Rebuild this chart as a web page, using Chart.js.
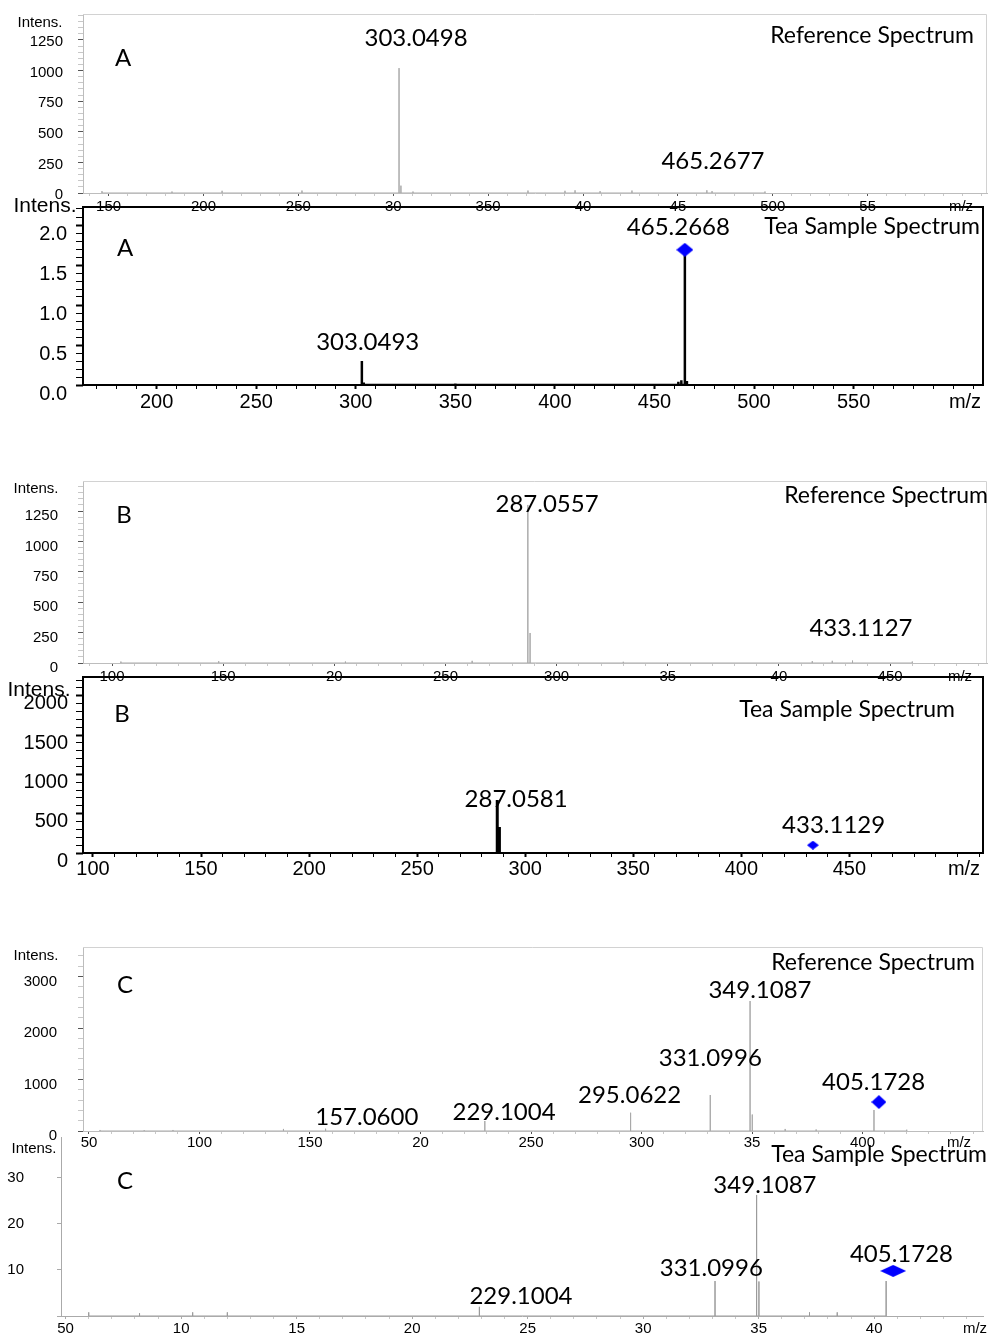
<!DOCTYPE html>
<html>
<head>
<meta charset="utf-8">
<script src="https://cdn.jsdelivr.net/npm/chart.js@4.4.0/dist/chart.umd.min.js"></script>
<style>
  body { margin: 0; background: #fff; }
  #wrap { position: relative; width: 989px; height: 1336px; overflow: hidden; background: #fff; }
  #wrap canvas { position: absolute; left: 0; }
</style>
</head>
<body>
<div id="wrap"></div>
<script>
// ---------- A : reference spectrum ----------
const refAMz  = [146.5, 183.4, 209.8, 251.9, 303.05, 304.05, 310.4, 371.0, 390.5, 395.8, 409.0, 425.8, 465.27, 468.0, 495.9];
const refAInt = [15, 12, 18, 20, 1020, 60, 12, 20, 18, 22, 15, 20, 22, 15, 12];
const refALabelText = ['303.0498', '465.2677'];
const refALabelMz   = [312.0, 468.5];
const refALabelInt  = [1266, 261];
const refAXTicks  = [150, 200, 250, 300, 350, 400, 450, 500, 550];
const refAXLabels = ['150', '200', '250', '30', '350', '40', '45', '500', '55'];
const refAYTicks  = [0, 250, 500, 750, 1000, 1250];
const refAYLabels = ['0', '250', '500', '750', '1000', '1250'];

// ---------- A : tea sample ----------
const sampAMz  = [303.05, 304.0, 350.0, 462.0, 463.5, 465.27, 466.3];
const sampAInt = [0.30, 0.03, 0.02, 0.04, 0.06, 1.69, 0.05];
const sampADiamond = [465.27, 1.69];
const sampALabelText = ['465.2668', '303.0493'];
const sampALabelMz   = [462.0, 306.0];
const sampALabelInt  = [1.975, 0.5375];
const sampAXTicks  = [200, 250, 300, 350, 400, 450, 500, 550];
const sampAXLabels = ['200', '250', '300', '350', '400', '450', '500', '550'];
const sampAYTicks  = [0, 0.5, 1, 1.5, 2];
const sampAYLabels = ['0.0', '0.5', '1.0', '1.5', '2.0'];

// ---------- B : reference spectrum ----------
const refBMz  = [104, 148, 205, 262, 287.06, 288.06, 330, 415, 424, 433.11, 460];
const refBInt = [12, 15, 12, 18, 1300, 247, 10, 15, 18, 20, 12];
const refBLabelText = ['287.0557', '433.1127'];
const refBLabelMz   = [295.7, 436.9];
const refBLabelInt  = [1308, 288];
const refBXTicks  = [100, 150, 200, 250, 300, 350, 400, 450];
const refBXLabels = ['100', '150', '20', '250', '300', '35', '40', '450'];
const refBYTicks  = [0, 250, 500, 750, 1000, 1250];
const refBYLabels = ['0', '250', '500', '750', '1000', '1250'];

// ---------- B : tea sample ----------
const sampBMz  = [287.06, 288.06];
const sampBInt = [674, 330];
const sampBDiamond = [433.11, 100];
const sampBLabelText = ['287.0581', '433.1129'];
const sampBLabelMz   = [295.8, 442.7];
const sampBLabelInt  = [687, 356];
const sampBXTicks  = [100, 150, 200, 250, 300, 350, 400, 450];
const sampBXLabels = ['100', '150', '200', '250', '300', '350', '400', '450'];
const sampBYTicks  = [0, 500, 1000, 1500, 2000];
const sampBYLabels = ['0', '500', '1000', '1500', '2000'];

// ---------- C : reference spectrum ----------
const refCMz  = [55, 75, 88, 138, 157.06, 229.10, 295.06, 331.10, 349.11, 350.11, 365, 379, 405.17, 420];
const refCInt = [20, 15, 20, 40, 45, 194, 355, 699, 2524, 320, 40, 30, 408, 25];
const refCDiamond = [407.4, 563];
const refCLabelText = ['349.1087', '331.0996', '295.0622', '405.1728', '229.1004', '157.0600'];
const refCLabelMz   = [353.6, 331.1, 294.6, 405.0, 237.8, 175.7];
const refCLabelInt  = [2738, 1417, 699, 951, 369, 272];
const refCXTicks  = [50, 100, 150, 200, 250, 300, 350, 400];
const refCXLabels = ['50', '100', '150', '20', '250', '300', '35', '400'];
const refCYTicks  = [0, 1000, 2000, 3000];
const refCYLabels = ['0', '1000', '2000', '3000'];

// ---------- C : tea sample ----------
const sampCMz  = [60, 82, 105, 120, 229.10, 331.10, 349.11, 350.11, 372, 384, 405.17];
const sampCInt = [0.8, 0.6, 0.8, 0.8, 2.0, 7.6, 26.3, 7.5, 0.8, 0.8, 7.6];
const sampCDiamond = [408.2, 9.8];
const sampCLabelText = ['349.1087', '331.0996', '405.1728', '229.1004'];
const sampCLabelMz   = [352.7, 329.5, 411.8, 247.1];
const sampCLabelInt  = [28.5, 10.4, 13.5, 4.35];
const sampCXTicks  = [50, 100, 150, 200, 250, 300, 350, 400];
const sampCXLabels = ['50', '10', '15', '20', '25', '30', '35', '40'];
const sampCYTicks  = [0, 10, 20, 30];
const sampCYLabels = ['', '10', '20', '30'];

const TICK_FONT = "'Liberation Sans', Arial, sans-serif";
const NOTE_FONT = "24px Lato, 'Open Sans', sans-serif";
const TITLE_FONT = "23px Lato, 'Open Sans', sans-serif";

function range(a, b, step) {
  const out = [];
  for (let i = 0; a + i * step <= b + 1e-9; i++) out.push(Math.round((a + i * step) * 1000) / 1000);
  return out;
}

function findIdx(v, vals) {
  for (let i = 0; i < vals.length; i++) {
    if (Math.abs(vals[i] - v) < 1e-6) return i;
  }
  return -1;
}

function allTicks(major, minor) {
  const out = major.slice();
  minor.forEach(v => { if (findIdx(v, out) < 0) out.push(v); });
  return out.sort((a, b) => a - b);
}

// each peak is drawn as baseline -> top -> baseline
function spikes(mz, inten) {
  const idx = mz.map((m, i) => i).sort((a, b) => mz[a] - mz[b]);
  const pts = [];
  idx.forEach(i => {
    pts.push({ x: mz[i], y: 0 }, { x: mz[i], y: inten[i] }, { x: mz[i], y: 0 });
  });
  return pts;
}

function makeDiamond(w, h) {
  const c = document.createElement('canvas');
  c.width = w; c.height = h;
  const g = c.getContext('2d');
  g.fillStyle = '#0000ff';
  g.beginPath();
  g.moveTo(w / 2, 0); g.lineTo(w, h / 2); g.lineTo(w / 2, h); g.lineTo(0, h / 2);
  g.closePath(); g.fill();
  return c;
}

function drawPanel(p) {
  const canvas = document.createElement('canvas');
  canvas.width = 989;
  canvas.height = p.height;
  canvas.style.top = p.top + 'px';
  document.getElementById('wrap').appendChild(canvas);

  const xAll = allTicks(p.xTicks, p.xMinor);
  const yAll = allTicks(p.yTicks, p.yMinor);

  const textPlugin = {
    id: 'panelText',
    afterDraw(chart) {
      const ctx = chart.ctx, a = chart.chartArea;
      const xs = chart.scales.x, ys = chart.scales.y;
      const dy = -p.top;
      ctx.save();
      if (p.frame) {
        ctx.strokeStyle = p.frame; ctx.lineWidth = 1;
        ctx.beginPath();
        ctx.moveTo(a.left, a.top + 0.5);
        ctx.lineTo(a.right - 0.5, a.top + 0.5);
        ctx.lineTo(a.right - 0.5, a.bottom);
        ctx.stroke();
      }
      if (p.box) {
        ctx.strokeStyle = '#000'; ctx.lineWidth = 2;
        ctx.strokeRect(a.left, a.top, a.right - a.left, a.bottom - a.top);
      }
      ctx.fillStyle = '#000';
      ctx.textBaseline = 'middle';
      ctx.font = NOTE_FONT;
      ctx.textAlign = 'center';
      p.labelText.forEach((t, i) => {
        ctx.fillText(t, xs.getPixelForValue(p.labelMz[i]), ys.getPixelForValue(p.labelInt[i]));
      });
      ctx.fillText(p.letter, p.letterPos[0], p.letterPos[1] + dy);
      ctx.font = TITLE_FONT;
      ctx.textAlign = 'right';
      ctx.fillText(p.title, p.titlePos[0], p.titlePos[1] + dy);
      ctx.textAlign = 'center';
      ctx.font = p.intensSize + 'px ' + TICK_FONT;
      ctx.fillText('Intens.', p.intensPos[0], p.intensPos[1] + dy);
      ctx.font = p.xFont + 'px ' + TICK_FONT;
      ctx.fillText('m/z', p.mzPos[0], p.mzPos[1] + dy);
      ctx.restore();
    }
  };

  const datasets = [{
    type: 'scatter',
    data: spikes(p.mz, p.int),
    showLine: true,
    pointRadius: 0,
    borderColor: p.lineColor,
    borderWidth: p.lineWidth,
    order: 2
  }];
  if (p.diamond) {
    datasets.push({
      type: 'scatter',
      data: [{ x: p.diamond[0], y: p.diamond[1] }],
      pointStyle: makeDiamond(p.diamondSize[0], p.diamondSize[1]),
      pointRadius: 5,
      order: 1
    });
  }

  new Chart(canvas, {
    type: 'scatter',
    data: { datasets: datasets },
    options: {
      responsive: false,
      animation: false,
      events: [],
      layout: { padding: { top: p.padTop, right: 2, left: 0, bottom: 0 } },
      plugins: { legend: { display: false }, tooltip: { enabled: false } },
      scales: {
        x: {
          type: 'linear', min: p.xMin, max: p.xMax, offset: false,
          afterBuildTicks: s => { s.ticks = xAll.map(v => ({ value: v })); },
          afterFit: s => { s.height = p.xAxisH; s.paddingLeft = 0; s.paddingRight = 0; },
          ticks: {
            autoSkip: false, maxRotation: 0, minRotation: 0, padding: p.xPad, color: '#000',
            font: { family: TICK_FONT, size: p.xFont },
            callback: v => { const i = findIdx(v, p.xTicks); return i < 0 ? '' : p.xLabels[i]; }
          },
          grid: {
            drawOnChartArea: false, tickLength: p.xTickLen,
            tickColor: c => findIdx(c.tick.value, p.xTicks) >= 0 ? p.majorColor : p.minorColor,
            tickWidth: c => findIdx(c.tick.value, p.xTicks) >= 0 ? p.majorWidth : 1
          },
          border: { display: !p.box, color: p.axisColor, width: 1 }
        },
        y: {
          type: 'linear', min: 0, max: p.yMax,
          afterBuildTicks: s => { s.ticks = yAll.map(v => ({ value: v })); },
          afterFit: s => { s.width = p.yAxisW; s.paddingTop = 0; s.paddingBottom = 0; },
          ticks: {
            autoSkip: false, padding: p.yPad, color: '#000', labelOffset: p.yLabelOffset,
            font: { family: TICK_FONT, size: p.yFont },
            callback: v => { const i = findIdx(v, p.yTicks); return i < 0 ? '' : p.yLabels[i]; }
          },
          grid: {
            drawOnChartArea: false, tickLength: p.yTickLen,
            tickColor: c => findIdx(c.tick.value, p.yTicks) >= 0 ? p.majorColor : p.minorColor,
            tickWidth: c => findIdx(c.tick.value, p.yTicks) >= 0 ? p.majorWidth : 1
          },
          border: { display: !p.box, color: p.axisColor, width: 1 }
        }
      }
    },
    plugins: [textPlugin]
  });
}

const refStyle = {
  lineColor: '#a9a9a9', lineWidth: 1, frame: '#d2d2d2', box: false, axisColor: '#bdbdbd',
  majorColor: '#555', minorColor: '#c8c8c8', majorWidth: 1,
  xFont: 15, yFont: 15, intensSize: 15, xTickLen: 3, yTickLen: 5, yAxisW: 83
};
const sampStyle = {
  lineColor: '#000', frame: null, box: true, axisColor: '#000',
  majorColor: '#000', minorColor: '#000', majorWidth: 2,
  xFont: 20, yFont: 20, intensSize: 21, yAxisW: 83
};

drawPanel(Object.assign({}, refStyle, {
  top: 0, height: 220, padTop: 14, xAxisH: 27,
  xMin: 136.5, xMax: 612.9, yMax: 1462,
  mz: refAMz, int: refAInt,
  labelText: refALabelText, labelMz: refALabelMz, labelInt: refALabelInt,
  xTicks: refAXTicks, xLabels: refAXLabels, xMinor: range(140, 610, 10),
  yTicks: refAYTicks, yLabels: refAYLabels, yMinor: range(0, 1450, 50),
  xPad: 2, yPad: 15, yLabelOffset: 2,
  letter: 'A', letterPos: [123, 58], title: 'Reference Spectrum', titlePos: [974, 36],
  intensPos: [40, 23], mzPos: [961, 207]
}));

drawPanel(Object.assign({}, sampStyle, {
  top: 195, height: 230, padTop: 12, xAxisH: 40,
  xMin: 163, xMax: 615, yMax: 2.225,
  mz: sampAMz, int: sampAInt, lineWidth: 2.5,
  diamond: sampADiamond, diamondSize: [17, 14],
  labelText: sampALabelText, labelMz: sampALabelMz, labelInt: sampALabelInt,
  xTicks: sampAXTicks, xLabels: sampAXLabels, xMinor: range(170, 610, 10),
  yTicks: sampAYTicks, yLabels: sampAYLabels, yMinor: range(0, 2.2, 0.1),
  xPad: 1, xTickLen: 4, yPad: 9, yTickLen: 7, yLabelOffset: 9,
  letter: 'A', letterPos: [125, 248], title: 'Tea Sample Spectrum', titlePos: [980, 227],
  intensPos: [45, 206], mzPos: [965, 402]
}));

drawPanel(Object.assign({}, refStyle, {
  top: 465, height: 225, padTop: 16, xAxisH: 27,
  xMin: 86.95, xMax: 493.6, yMax: 1497,
  mz: refBMz, int: refBInt,
  labelText: refBLabelText, labelMz: refBLabelMz, labelInt: refBLabelInt,
  xTicks: refBXTicks, xLabels: refBXLabels, xMinor: range(90, 490, 10),
  yTicks: refBYTicks, yLabels: refBYLabels, yMinor: range(0, 1450, 50),
  xPad: 2, yPad: 20, yLabelOffset: 5,
  letter: 'B', letterPos: [124, 515], title: 'Reference Spectrum', titlePos: [988, 496],
  intensPos: [36, 489], mzPos: [960, 677]
}));

drawPanel(Object.assign({}, sampStyle, {
  top: 665, height: 225, padTop: 12, xAxisH: 37,
  xMin: 95.4, xMax: 511.8, yMax: 2239,
  mz: sampBMz, int: sampBInt, lineWidth: 3,
  diamond: sampBDiamond, diamondSize: [12, 9],
  labelText: sampBLabelText, labelMz: sampBLabelMz, labelInt: sampBLabelInt,
  xTicks: sampBXTicks, xLabels: sampBXLabels, xMinor: range(100, 510, 10),
  yTicks: sampBYTicks, yLabels: sampBYLabels, yMinor: range(0, 2200, 100),
  xPad: 0, xTickLen: 4, yPad: 8, yTickLen: 7, yLabelOffset: 8,
  letter: 'B', letterPos: [122, 714], title: 'Tea Sample Spectrum', titlePos: [955, 710],
  intensPos: [39, 690], mzPos: [964, 869]
}));

drawPanel(Object.assign({}, refStyle, {
  top: 935, height: 225, padTop: 12, xAxisH: 29,
  xMin: 47.3, xMax: 454.5, yMax: 3573,
  mz: refCMz, int: refCInt,
  diamond: refCDiamond, diamondSize: [15, 14],
  labelText: refCLabelText, labelMz: refCLabelMz, labelInt: refCLabelInt,
  xTicks: refCXTicks, xLabels: refCXLabels, xMinor: range(50, 450, 10),
  yTicks: refCYTicks, yLabels: refCYLabels, yMinor: range(0, 3400, 200),
  xPad: 0, yPad: 21, yLabelOffset: 5,
  letter: 'C', letterPos: [125, 985], title: 'Reference Spectrum', titlePos: [975, 963],
  intensPos: [36, 956], mzPos: [959, 1143]
}));

drawPanel(Object.assign({}, refStyle, {
  top: 1125, height: 211, padTop: 12, xAxisH: 20, yAxisW: 61,
  frame: null, lineColor: '#9a9a9a', axisColor: '#aaaaaa', majorColor: '#aaaaaa',
  xMin: 48, xMax: 447.1, yMax: 38.9,
  mz: sampCMz, int: sampCInt,
  diamond: sampCDiamond, diamondSize: [26, 12],
  labelText: sampCLabelText, labelMz: sampCLabelMz, labelInt: sampCLabelInt,
  xTicks: sampCXTicks, xLabels: sampCXLabels, xMinor: range(50, 440, 10),
  yTicks: sampCYTicks, yLabels: sampCYLabels, yMinor: [],
  xPad: 1, yPad: 33, yTickLen: 4, yLabelOffset: 0,
  letter: 'C', letterPos: [125, 1181], title: 'Tea Sample Spectrum', titlePos: [987, 1155],
  intensPos: [34, 1149], mzPos: [975, 1329]
}));
</script>
</body>
</html>
